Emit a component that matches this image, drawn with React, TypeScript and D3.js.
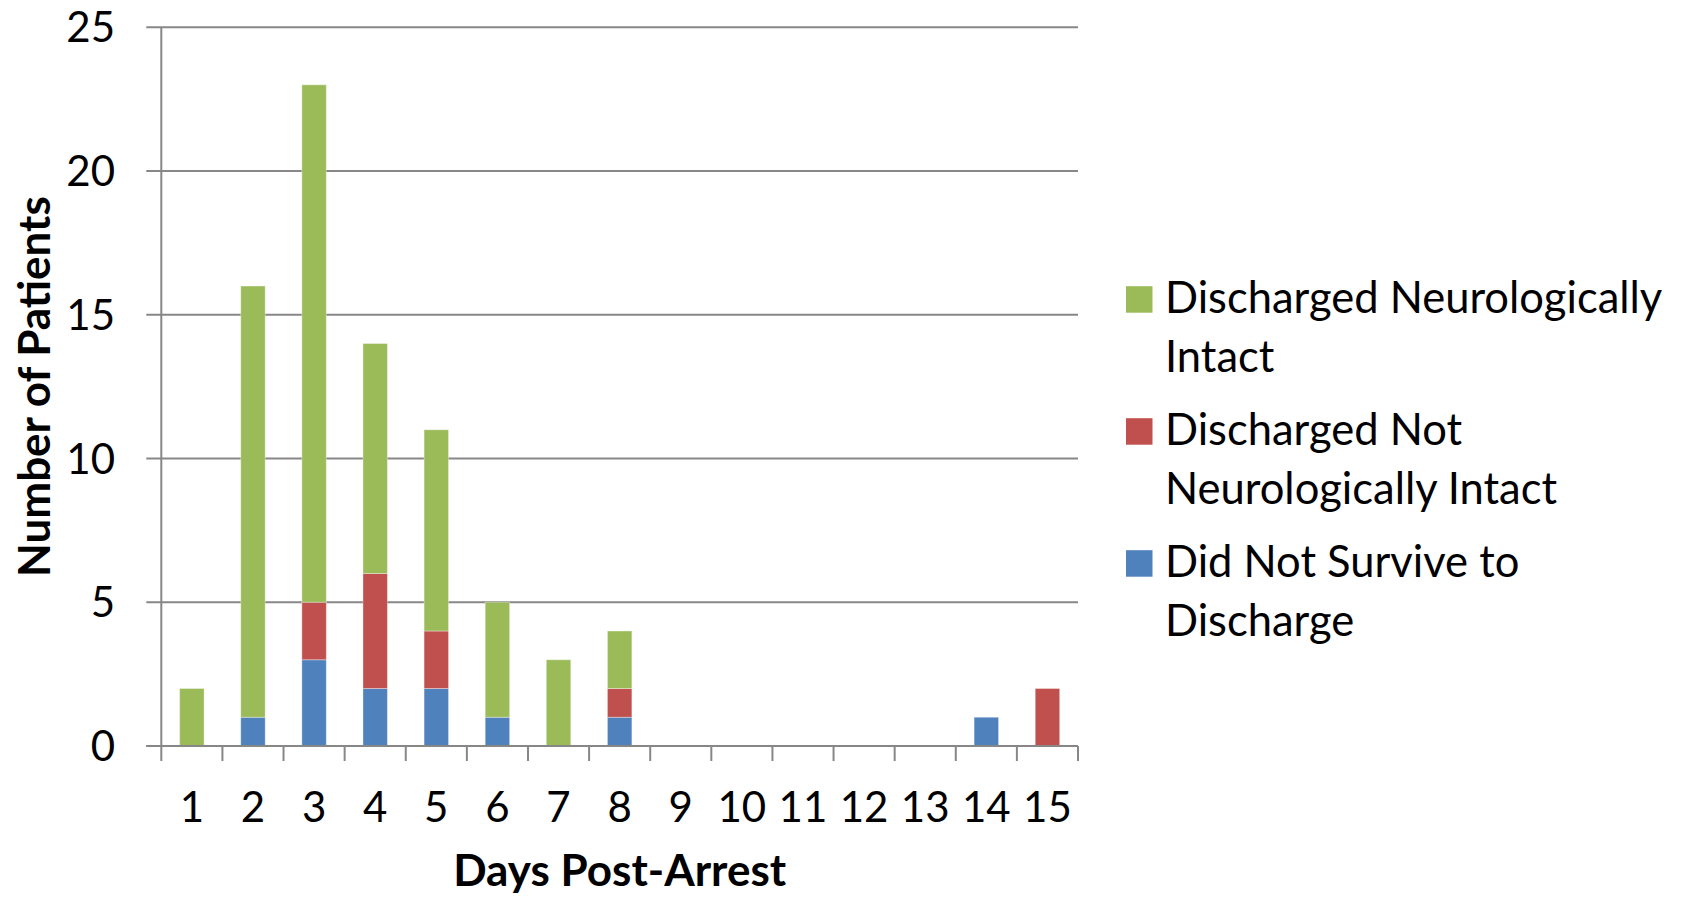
import React from "react";
import * as d3 from "d3";

// Days post-arrest (categories)
const days: string[] = ["1", "2", "3", "4", "5", "6", "7", "8", "9", "10", "11", "12", "13", "14", "15"];

// Patient counts per outcome for each day
const didNotSurvive: number[] = [0, 1, 3, 2, 2, 1, 0, 1, 0, 0, 0, 0, 0, 1, 0];
const dischargedNotIntact: number[] = [0, 0, 2, 4, 2, 0, 0, 1, 0, 0, 0, 0, 0, 0, 2];
const dischargedIntact: number[] = [2, 15, 18, 8, 7, 4, 3, 2, 0, 0, 0, 0, 0, 0, 0];

const yTicks: number[] = [0, 5, 10, 15, 20, 25];

const seriesKeys = ["didNotSurvive", "dischargedNotIntact", "dischargedIntact"] as const;
const seriesColors: Record<string, string> = {
  didNotSurvive: "#4F81BD",
  dischargedNotIntact: "#C0504D",
  dischargedIntact: "#9BBB59",
};

// Legend entries, top to bottom, each split over two lines
const legendItems: { key: string; lines: string[] }[] = [
  { key: "dischargedIntact", lines: ["Discharged Neurologically", "Intact"] },
  { key: "dischargedNotIntact", lines: ["Discharged Not", "Neurologically Intact"] },
  { key: "didNotSurvive", lines: ["Did Not Survive to", "Discharge"] },
];

const W = 1690;
const H = 899;
const plot = { left: 161.3, right: 1078, top: 27.3, bottom: 746 };
const FONT = "Lato, 'Open Sans', sans-serif";
const FS = 42;
const LEGEND_FS = 43.5;
const TITLE_FS = 44;
const GRID = "#878787";

export default function App() {
  const rows = days.map((d, i) => ({
    day: d,
    didNotSurvive: didNotSurvive[i],
    dischargedNotIntact: dischargedNotIntact[i],
    dischargedIntact: dischargedIntact[i],
  }));

  const x = d3.scaleBand<string>().domain(days).range([plot.left, plot.right]).paddingInner(0).paddingOuter(0);
  const y = d3.scaleLinear().domain([0, 25]).range([plot.bottom, plot.top]);
  const barW = x.bandwidth() * 0.4;

  const stacked = d3.stack<any>().keys(seriesKeys as unknown as string[])(rows);

  const boundaries = days.map((d) => x(d)!).concat([plot.right]);

  return (
    <svg
      width={W}
      height={H}
      style={{ position: "absolute", left: 0, top: 0, background: "#fff" }}
      fontFamily={FONT}
    >
      <rect x={0} y={0} width={W} height={H} fill="#fff" />

      {/* horizontal gridlines with small ticks left of the axis */}
      {yTicks.map((t) => (
        <line key={`g${t}`} x1={plot.left - 15} x2={plot.right} y1={y(t)} y2={y(t)} stroke={GRID} strokeWidth={2} />
      ))}

      {/* vertical axis */}
      <line x1={plot.left} x2={plot.left} y1={plot.top} y2={plot.bottom} stroke={GRID} strokeWidth={2} />

      {/* category boundary ticks below the axis */}
      {boundaries.map((bx, i) => (
        <line key={`t${i}`} x1={bx} x2={bx} y1={plot.bottom} y2={plot.bottom + 15} stroke={GRID} strokeWidth={2} />
      ))}

      {/* stacked bars */}
      {stacked.map((s) => (
        <g key={s.key} fill={seriesColors[s.key]}>
          {s.map((seg, i) => {
            const h = y(seg[0]) - y(seg[1]);
            if (h <= 0) return null;
            const cx = x(days[i])! + x.bandwidth() / 2;
            return (
              <rect
                key={i}
                x={cx - barW / 2}
                y={y(seg[1])}
                width={barW}
                height={h}
                stroke="#fff"
                strokeOpacity={0.35}
                strokeWidth={1}
              />
            );
          })}
        </g>
      ))}

      {/* redraw baseline above bars */}
      <line x1={plot.left - 15} x2={plot.right} y1={plot.bottom} y2={plot.bottom} stroke={GRID} strokeWidth={2} />

      {/* y tick labels */}
      {yTicks.map((t) => (
        <text key={`yl${t}`} x={115} y={y(t)} dy="0.36em" textAnchor="end" fontSize={FS} fill="#000">
          {t}
        </text>
      ))}

      {/* x tick labels */}
      {days.map((d) => (
        <text key={`xl${d}`} x={x(d)! + x.bandwidth() / 2} y={821.7} textAnchor="middle" fontSize={FS} fill="#000">
          {d}
        </text>
      ))}

      {/* axis titles */}
      <text x={(plot.left + plot.right) / 2} y={886} textAnchor="middle" fontSize={TITLE_FS} fontWeight="bold" fill="#000">
        Days Post-Arrest
      </text>
      <text
        transform={`translate(50, ${(plot.top + plot.bottom) / 2}) rotate(-90)`}
        textAnchor="middle"
        fontSize={TITLE_FS}
        fontWeight="bold"
        fill="#000"
      >
        Number of Patients
      </text>

      {/* legend */}
      {legendItems.map((item, i) => {
        const base = 312.7 + i * 132;
        return (
          <g key={item.key}>
            <rect x={1126} y={base - 26.5} width={26.5} height={26.5} fill={seriesColors[item.key]} />
            {item.lines.map((ln, j) => (
              <text key={j} x={1165} y={base + j * 59} fontSize={LEGEND_FS} fill="#000">
                {ln}
              </text>
            ))}
          </g>
        );
      })}
    </svg>
  );
}
